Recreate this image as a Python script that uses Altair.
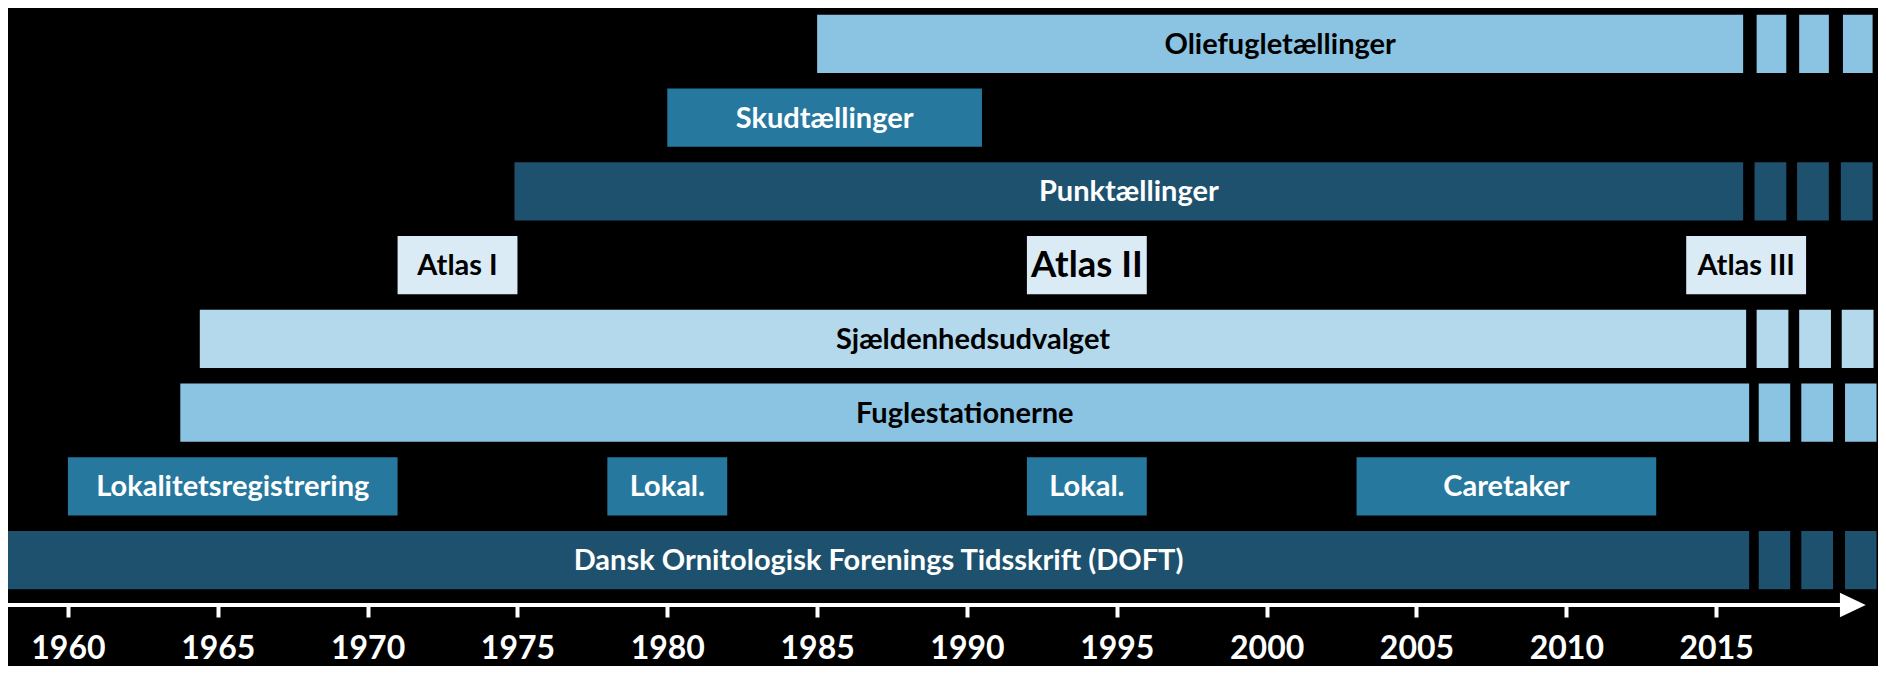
import altair as alt
import pandas as pd

# ---- data ----
labels = ["Oliefugletællinger", "Skudtællinger", "Punktællinger",
          "Atlas I", "Atlas II", "Atlas III",
          "Sjældenhedsudvalget", "Fuglestationerne",
          "Lokalitetsregistrering", "Lokal.", "Lokal.", "Caretaker",
          "Dansk Ornitologisk Forenings Tidsskrift (DOFT)"]
rows = [0, 1, 2, 3, 3, 3, 4, 5, 6, 6, 6, 6, 7]
starts = [1985.0, 1980.0, 1974.9, 1971.0, 1992.0, 2014.0, 1964.4, 1963.75,
          1960.0, 1978.0, 1992.0, 2003.0, 1958.0]
ends = [2015.9, 1990.5, 2015.9, 1975.0, 1996.0, 2018.0, 2016.0, 2016.1,
        1971.0, 1982.0, 1996.0, 2013.0, 2016.1]
tones = ["light", "medium", "dark", "pale", "pale", "pale", "lighter", "light",
         "medium", "medium", "medium", "medium", "dark"]

# continuation dashes after 2016
dash_rows = [0, 0, 0, 2, 2, 2, 4, 4, 4, 5, 5, 5, 7, 7, 7]
dash_starts = [2016.35, 2017.77, 2019.23, 2016.28, 2017.70, 2019.16,
               2016.35, 2017.77, 2019.19, 2016.42, 2017.84, 2019.30,
               2016.42, 2017.84, 2019.30]
dash_ends = [2017.34, 2018.76, 2020.22, 2017.34, 2018.76, 2020.22,
             2017.41, 2018.83, 2020.25, 2017.47, 2018.90, 2020.35,
             2017.47, 2018.90, 2020.35]
dash_tones = ["light"] * 3 + ["dark"] * 3 + ["lighter"] * 3 + ["light"] * 3 + ["dark"] * 3

tick_years = [1960, 1965, 1970, 1975, 1980, 1985, 1990, 1995, 2000, 2005, 2010, 2015]
axis_line_years = [1958.0, 2019.3]
arrow_year = [2019.56]

tone_domain = ["light", "lighter", "pale", "medium", "dark"]
tone_colors = ["#8BC4E2", "#B4D9EC", "#DAEBF6", "#27789E", "#1E516E"]

# ---- frames ----
bars = pd.DataFrame({"label": labels, "row": rows, "start": starts,
                     "end": ends, "tone": tones})
dashes = pd.DataFrame({"row": dash_rows, "start": dash_starts,
                       "end": dash_ends, "tone": dash_tones})
axis_line = pd.DataFrame({"a": [axis_line_years[0]], "b": [axis_line_years[1]]})
arrow = pd.DataFrame({"x": arrow_year})

W, H = 1870, 597

xscale = alt.Scale(domain=[1958.0, 2020.4], nice=False, zero=False)
yscale = alt.Scale(domain=list(range(8)), range=[6.8, 581.3],
                   paddingInner=0.2105, paddingOuter=0)
xaxis = alt.Axis(values=tick_years, format="d", title=None, grid=False,
                 domain=False, ticks=True, tickColor="white", tickWidth=4,
                 tickSize=12, labelColor="white", labelFont="Lato",
                 labelFontWeight="bold", labelFontSize=32, labelPadding=16,
                 labelFlush=False, labelOverlap=False)
color = alt.Color("tone:N", scale=alt.Scale(domain=tone_domain, range=tone_colors),
                  legend=None)

rect_layer = alt.Chart(bars).mark_rect().encode(
    x=alt.X("start:Q", scale=xscale, axis=xaxis),
    x2="end:Q",
    y=alt.Y("row:O", scale=yscale, axis=None),
    color=color,
)

dash_layer = alt.Chart(dashes).mark_rect().encode(
    x=alt.X("start:Q", scale=xscale, axis=xaxis),
    x2="end:Q",
    y=alt.Y("row:O", scale=yscale, axis=None),
    color=color,
)

text_layer = alt.Chart(bars).transform_calculate(
    mid="(datum.start + datum.end) / 2"
).mark_text(font="Lato", fontWeight="bold", align="center",
            baseline="middle", dy=1).encode(
    x=alt.X("mid:Q", scale=xscale, axis=xaxis),
    y=alt.Y("row:O", scale=yscale, axis=None),
    text="label:N",
    color=alt.condition("datum.tone == 'medium' || datum.tone == 'dark'",
                        alt.value("white"), alt.value("black")),
    size=alt.condition("datum.label == 'Atlas II'",
                       alt.value(36.5), alt.value(29)),
)

line_layer = alt.Chart(axis_line).mark_rule(color="white", strokeWidth=4).encode(
    x=alt.X("a:Q", scale=xscale, axis=xaxis),
    x2="b:Q",
    y=alt.value(H),
)

arrow_layer = alt.Chart(arrow).mark_point(
    shape="M-1,-0.942L1,0L-1,0.942Z", filled=True, color="white",
    opacity=1, size=666, strokeWidth=0
).encode(
    x=alt.X("x:Q", scale=xscale, axis=xaxis),
    y=alt.value(H),
)

chart = alt.layer(rect_layer, dash_layer, text_layer, line_layer, arrow_layer).properties(
    width=W, height=H,
    padding={"left": 0, "top": 0, "right": 0, "bottom": 61},
    autosize=alt.AutoSizeParams(type="none"),
    background="black",
).configure_view(strokeWidth=0)

chart.save("out.html", embed_options={"renderer": "svg", "actions": False})
